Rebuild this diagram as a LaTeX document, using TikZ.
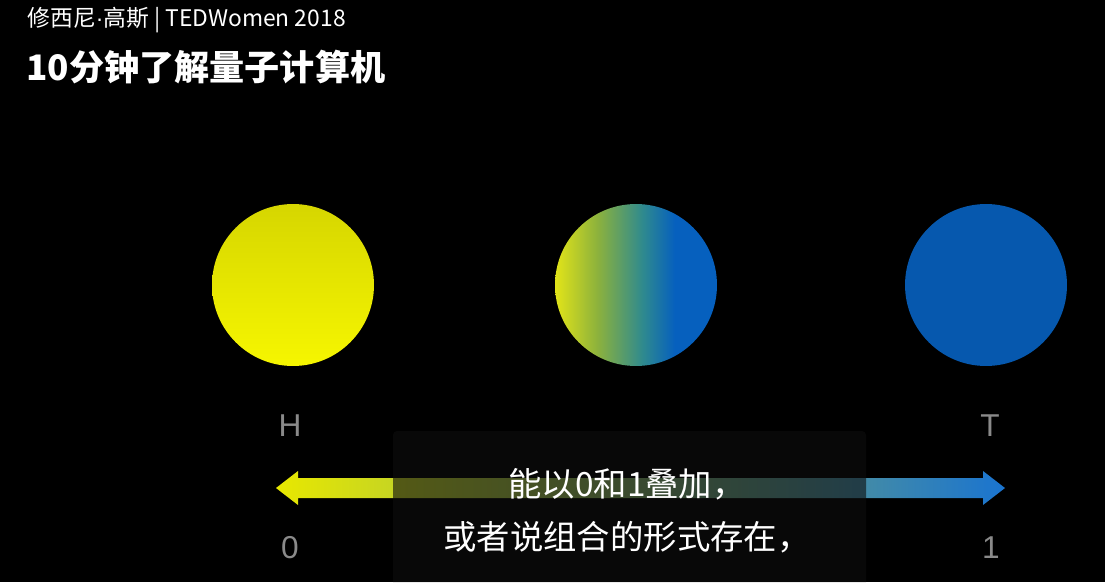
\documentclass[tikz,border=0pt]{standalone}
\usepackage{fontspec}
\newfontfamily\cjk{Noto Sans CJK SC}
\newfontfamily\labfont{Liberation Sans}
\usetikzlibrary{calc}
\definecolor{QYellowTop}{HTML}{D6D600}
\definecolor{QYellowBot}{HTML}{F6F600}
\definecolor{QYellow}{HTML}{E2E418}
\definecolor{QGreen}{HTML}{8DB23C}
\definecolor{QTeal}{HTML}{2F8A8E}
\definecolor{QBlue}{HTML}{0660BE}
\definecolor{QDeep}{HTML}{0658AE}
\definecolor{ArrowY}{HTML}{E8E800}
\definecolor{ArrowB}{HTML}{1A74D0}
\definecolor{Label}{HTML}{8A8A8A}
\definecolor{Caption}{HTML}{0E0E0E}
\pgfdeclarehorizontalshading{superpos}{100bp}{color(0bp)=(QYellow); color(25bp)=(QYellow);
  color(38bp)=(QGreen); color(52bp)=(QTeal); color(62bp)=(QBlue); color(100bp)=(QBlue)}

\begin{document}
\begin{tikzpicture}[
  x=0.02cm,y=-0.02cm,
  qubit/.style={circle,minimum size=3.24cm,inner sep=0pt},
  side/.style={text=Label,font=\labfont\fontsize{18}{18}\selectfont,inner sep=0pt},
  head/.style={text=white,anchor=west,inner sep=0pt}
]
\fill[black] (0,0) rectangle (1105,582);
\useasboundingbox (0,0) rectangle (1105,582);
% title lines
\node[head,font=\cjk\fontsize{13}{14}\selectfont] (speaker) at (27,20) {修西尼{\labfont·}高斯 | TEDWomen 2018};
\node[head,font=\cjk\bfseries\fontsize{20}{22}\selectfont] (title) at (26,67) {10分钟了解量子计算机};
% the three states
\node[qubit,top color=QYellowTop,bottom color=QYellowBot] (heads) at (293,285) {};
\node[qubit,shading=superpos] (mixed) at (636,285) {};
\node[qubit,fill=QDeep] (tails) at (986,285) {};
\node[side] (h) at (290,426) {H};
\node[side] (t) at (990,426) {T};
\node[side] (zeroLab) at (290,548) {0};
\node[side] (oneLab) at (991,548) {1};
% double arrow
\coordinate (zero) at (276,488);
\coordinate (one) at (1005,488);
\shade[left color=ArrowY,right color=ArrowB]
  (zero) -- ($(zero)+(22,-17)$) -- ($(zero)+(22,-10)$) -- ($(one)+(-22,-10)$) -- ($(one)+(-22,-17)$)
  -- (one) -- ($(one)+(-22,17)$) -- ($(one)+(-22,10)$) -- ($(zero)+(22,10)$) -- ($(zero)+(22,17)$) -- cycle;
% subtitle
\fill[Caption,opacity=0.62] (393,582) [rounded corners=0.08cm]-- (393,431) -- (866,431) [sharp corners]-- (866,582) -- cycle;
\node[text=white,font=\cjk\fontsize{19}{30}\selectfont,align=center,inner sep=0pt] (subtitle) at (627,511)
  {能以0和1叠加，\\或者说组合的形式存在，};
\end{tikzpicture}
\end{document}
